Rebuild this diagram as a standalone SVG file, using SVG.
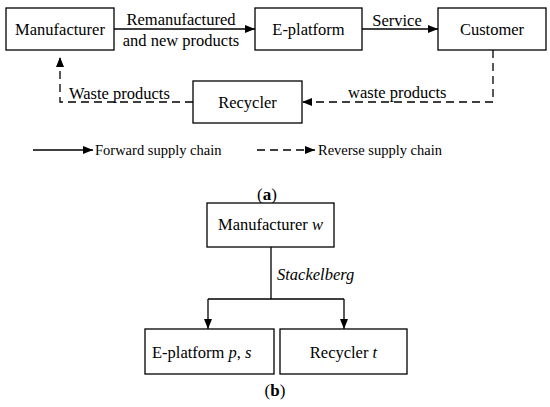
<svg xmlns="http://www.w3.org/2000/svg" width="550" height="407" viewBox="0 0 550 407">
<style>
.box{fill:#fff;stroke:#000;stroke-width:1.3}
text{font-family:'Liberation Serif','Times New Roman','DejaVu Serif',serif;fill:#000}
.t{font-size:16.5px}
.c{text-anchor:middle}
.lg{font-size:14.5px}
.ln{fill:none;stroke:#000;stroke-width:1.3}
.d{stroke-dasharray:8,5}
.cap{font-size:17px;text-anchor:middle}
</style>
<defs>
<marker id="ah" viewBox="0 0 10 8" refX="10" refY="4" markerWidth="10" markerHeight="8" markerUnits="userSpaceOnUse" orient="auto">
<path d="M0,0 L10,4 L0,8 Z" fill="#000"/>
</marker>
</defs>
<g id="connectors">
<path class="ln" d="M114,29 H255" marker-end="url(#ah)"/>
<path class="ln" d="M362,29 H438" marker-end="url(#ah)"/>
<path class="ln d" d="M493,50 V102 H302" marker-end="url(#ah)"/>
<path class="ln d" d="M193,102 H60 V57" marker-end="url(#ah)"/>
<path class="ln" d="M33,150 H93" marker-end="url(#ah)"/>
<path class="ln d" d="M257,150 H315" marker-end="url(#ah)"/>
<path class="ln" d="M271,247 V299 M208,299 H344"/>
<path class="ln" d="M208,299 V329" marker-end="url(#ah)"/>
<path class="ln" d="M344,299 V329" marker-end="url(#ah)"/>
</g>
<g id="labels">
<text class="t c" x="181" y="25">Remanufactured</text>
<text class="t c" x="181" y="46">and new products</text>
<text class="t c" x="397" y="26">Service</text>
<text class="t" x="69" y="99">Waste products</text>
<text class="t" x="348" y="98">waste products</text>
<text class="lg" x="95" y="155">Forward supply chain</text>
<text class="lg" x="318" y="155">Reverse supply chain</text>
<text class="t" x="277" y="280" font-style="italic">Stackelberg</text>
<text class="cap" x="267" y="200">(<tspan font-weight="bold">a</tspan>)</text>
<text class="cap" x="275" y="396">(<tspan font-weight="bold">b</tspan>)</text>
</g>
<g id="manufacturer">
<rect class="box" x="6" y="8" width="108" height="42"/>
<text class="t c" x="60" y="35">Manufacturer</text>
</g>
<g id="eplatform">
<rect class="box" x="255" y="8" width="107" height="42"/>
<text class="t c" x="308.5" y="35">E-platform</text>
</g>
<g id="customer">
<rect class="box" x="438" y="8" width="108" height="42"/>
<text class="t c" x="492" y="35">Customer</text>
</g>
<g id="recycler">
<rect class="box" x="193" y="81" width="109" height="42"/>
<text class="t c" x="247.5" y="108">Recycler</text>
</g>
<g id="manufacturer-w">
<rect class="box" x="207" y="203" width="127" height="44"/>
<text class="t c" x="270.5" y="230">Manufacturer <tspan font-style="italic">w</tspan></text>
</g>
<g id="eplatform-ps">
<rect class="box" x="145" y="329" width="129" height="45"/>
<text class="t" x="152" y="358">E-platform  <tspan font-style="italic">p</tspan>, <tspan font-style="italic">s</tspan></text>
</g>
<g id="recycler-t">
<rect class="box" x="280" y="329" width="127" height="45"/>
<text class="t c" x="343.5" y="358">Recycler <tspan font-style="italic">t</tspan></text>
</g>
</svg>
